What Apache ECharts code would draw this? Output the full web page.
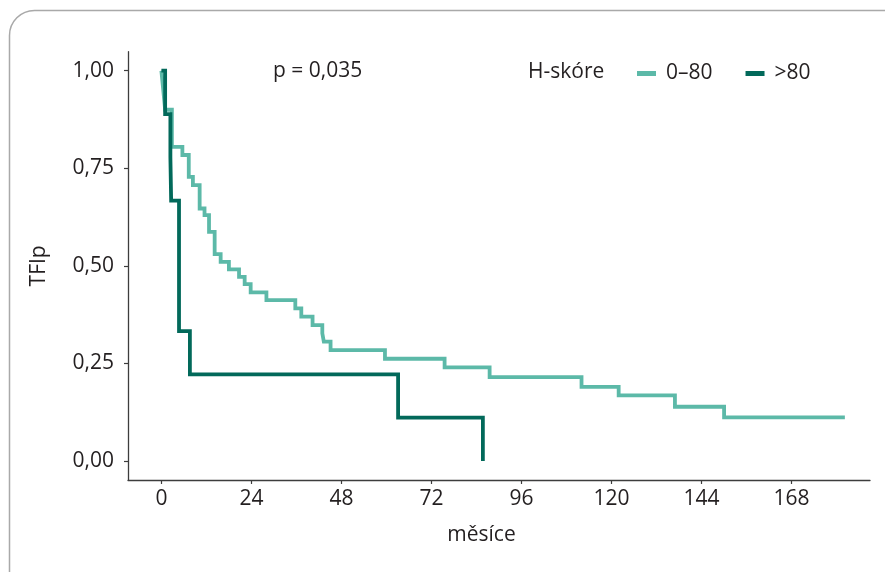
<!DOCTYPE html>
<html>
<head>
<meta charset="utf-8">
<script src="https://cdn.jsdelivr.net/npm/echarts@6/dist/echarts.min.js"></script>
<style>
html,body{margin:0;padding:0;background:#fff;}
#c{width:885px;height:572px;}
</style>
</head>
<body>
<div id="c"></div>
<script>
// Data read from the Kaplan–Meier chart (time in months, survival proportion)
const lowLabel = '0\u201380';
const highLabel = '>80';
const lowTimes = [0, 0.2, 0.4, 0.6, 0.8, 1.0, 2.8, 5.6, 7.3, 8.4, 10.2, 11.5, 12.7, 14.2, 15.8, 18.0, 20.7, 22.2, 23.8, 28.0, 35.7, 37.3, 40.3, 42.9, 43.3, 45.1, 59.6, 75.5, 87.5, 112.0, 121.9, 136.9, 150.0, 182.2];
const lowSurv  = [1.0, 0.98, 0.96, 0.94, 0.92, 0.90, 0.805, 0.784, 0.728, 0.707, 0.647, 0.630, 0.587, 0.530, 0.510, 0.491, 0.472, 0.453, 0.432, 0.412, 0.391, 0.370, 0.348, 0.327, 0.306, 0.284, 0.262, 0.240, 0.215, 0.190, 0.168, 0.139, 0.112, 0.112];
const highTimes = [0, 1.0, 2.4, 2.6, 4.7, 7.6, 63.1, 85.7];
const highSurv  = [1.0, 0.889, 0.778, 0.667, 0.333, 0.222, 0.111, 0.0];
const xTicks = [0, 24, 48, 72, 96, 120, 144, 168];
const yTicks = [0, 0.25, 0.5, 0.75, 1.0];
const pText = 'p = 0,035';
const legendTitle = 'H-sk\u00f3re';
const xName = 'm\u011bs\u00edce';
const yName = 'TFIp';

const FONT = '"Open Sans", "Noto Sans", sans-serif';
const TXT = '#231f20';
const LIGHT = '#5cb9a8';
const DARK = '#02695a';

const zip = (a, b) => a.map((v, i) => [v, b[i]]);

const chart = echarts.init(document.getElementById('c'), null, {renderer: 'canvas'});
chart.setOption({
  animation: false,
  backgroundColor: '#fff',
  textStyle: {fontFamily: FONT, color: TXT},
  grid: {left: 128, right: 15, top: 51.7, bottom: 92, containLabel: false, outerBoundsMode: 'none'},
  graphic: [
    {type: 'rect', shape: {x: 9.5, y: 10.5, width: 1000, height: 1000, r: 25},
     style: {fill: 'none', stroke: '#a9a9a9', lineWidth: 1.5}, silent: true, z: -1},
    {type: 'text', left: 273, top: 61,
     style: {text: pText, fontFamily: FONT, fontSize: 21, fill: TXT}},
    {type: 'text', left: 528, top: 62,
     style: {text: legendTitle, fontFamily: FONT, fontSize: 21, fill: TXT}}
  ],
  legend: {
    left: 637, top: 63, padding: 0,
    icon: 'rect', itemWidth: 19, itemHeight: 5, itemGap: 33,
    textStyle: {fontFamily: FONT, fontSize: 21, color: TXT, padding: [0, 0, 0, 5]},
    data: [lowLabel, highLabel]
  },
  xAxis: {
    type: 'value', min: -8.9, max: 188.9,
    name: xName, nameLocation: 'middle', nameGap: 45,
    nameTextStyle: {fontFamily: FONT, fontSize: 21, color: TXT, padding: [0, 35, 0, 0]},
    axisLine: {show: true, onZero: false, lineStyle: {color: '#3d3d3d', width: 1.3}},
    axisTick: {show: true, length: 4, customValues: xTicks, lineStyle: {color: '#3d3d3d', width: 1.2}},
    axisLabel: {customValues: xTicks, fontFamily: FONT, fontSize: 21, color: TXT, margin: 9},
    splitLine: {show: false}
  },
  yAxis: {
    type: 'value', min: -0.0487, max: 1.0487,
    name: yName, nameLocation: 'middle', nameGap: 78, nameRotate: 90,
    nameTextStyle: {fontFamily: FONT, fontSize: 21, color: TXT},
    axisLine: {show: true, onZero: false, lineStyle: {color: '#3d3d3d', width: 1.3}},
    axisTick: {show: true, length: 4, customValues: yTicks, lineStyle: {color: '#3d3d3d', width: 1.2}},
    axisLabel: {customValues: yTicks, fontFamily: FONT, fontSize: 21, color: TXT, margin: 14,
      formatter: v => v.toFixed(2).replace('.', ',')},
    splitLine: {show: false}
  },
  series: [
    {name: lowLabel, type: 'line', step: 'end', showSymbol: false, data: zip(lowTimes, lowSurv),
     lineStyle: {color: LIGHT, width: 3.8, join: 'miter'}, itemStyle: {color: LIGHT}},
    {name: highLabel, type: 'line', step: 'end', showSymbol: false, data: zip(highTimes, highSurv),
     lineStyle: {color: DARK, width: 3.8, join: 'miter'}, itemStyle: {color: DARK}}
  ]
});
</script>
</body>
</html>
